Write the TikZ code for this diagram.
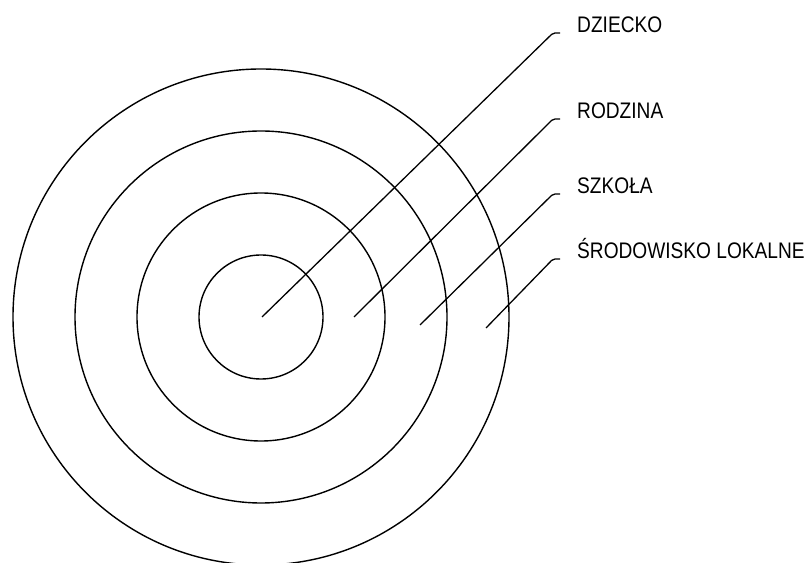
\documentclass[tikz,border=0pt]{standalone}
\usepackage{fontspec}
\setmainfont{Liberation Sans}[FakeStretch=0.85]
\begin{document}
\begin{tikzpicture}[x=1pt,y=1pt,
  ring/.style={draw,circle,line width=1.4pt,inner sep=0pt,outer sep=0pt},
  leader/.style={line width=1.3pt,rounded corners=2pt},
  lbl/.style={anchor=base west,inner sep=0pt,font=\fontsize{22.5}{27}\selectfont}]
\useasboundingbox (0,0) rectangle (810,562);
\coordinate (c) at (261,245);
\node[ring,minimum size=124pt] (r1) at (c) {};
\node[ring,minimum size=248pt] (r2) at (c) {};
\node[ring,minimum size=372pt] (r3) at (c) {};
\node[ring,minimum size=496pt] (r4) at (c) {};
\node[lbl] (t1) at (577,529) {DZIECKO};
\node[lbl] (t2) at (577,443) {RODZINA};
\node[lbl] (t3) at (577,368) {SZKOŁA};
\node[lbl] (t4) at (577,303) {ŚRODOWISKO LOKALNE};
\coordinate (s1) at (262,245);
\coordinate (s2) at (354,245);
\coordinate (s3) at (420,237);
\coordinate (s4) at (486,234);
\coordinate (h1) at (553,529);
\coordinate (h2) at (553,443);
\coordinate (h3) at (553,368);
\coordinate (h4) at (553,303);
\coordinate (e1) at (560,529);
\coordinate (e2) at (560,443);
\coordinate (e3) at (560,368);
\coordinate (e4) at (560,303);
\draw[leader] (s1) -- (h1) -- (e1);
\draw[leader] (s2) -- (h2) -- (e2);
\draw[leader] (s3) -- (h3) -- (e3);
\draw[leader] (s4) -- (h4) -- (e4);
\end{tikzpicture}
\end{document}
